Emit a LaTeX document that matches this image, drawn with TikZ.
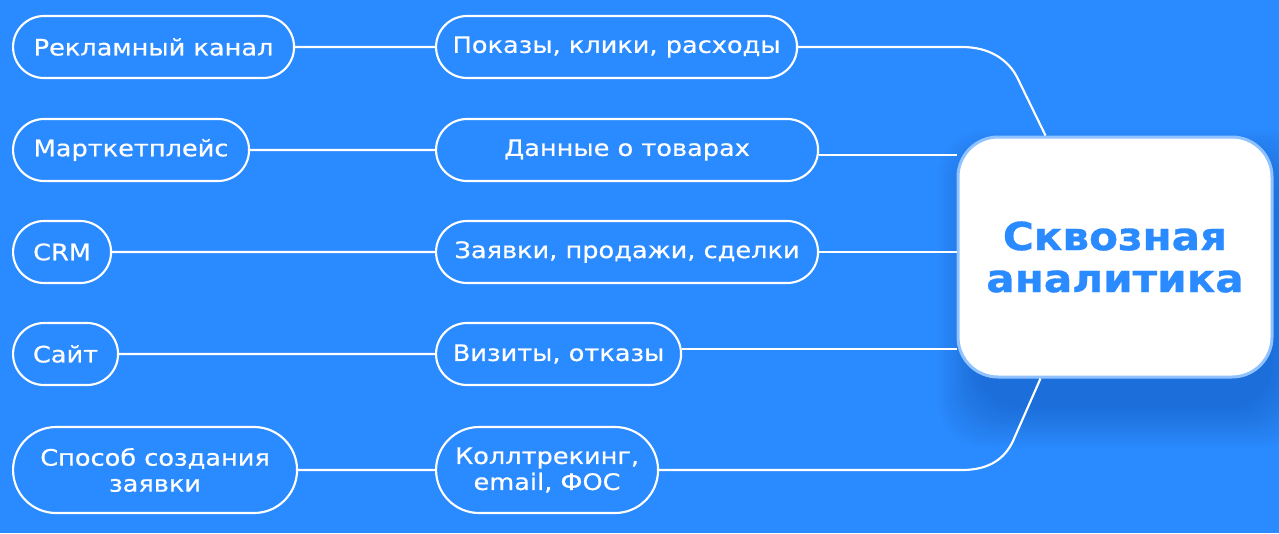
\documentclass[tikz,border=0pt]{standalone}
\usepackage{fontspec}
\setmainfont[FakeStretch=1.13,FakeBold=0.6]{DejaVu Sans}
\newfontfamily\hubfont[FakeStretch=1.09,FakeBold=0.8]{DejaVu Sans}
\usetikzlibrary{shapes.misc}
\definecolor{bgblue}{HTML}{2A8AFF}
\definecolor{hubedge}{HTML}{8FC2FF}
\definecolor{shadeblue}{HTML}{1650A8}
\tikzset{
	% pill shaped boxes for sources and their data
	pill/.style={rounded rectangle, draw=white, line width=1.6pt, text=white,
		minimum height=46.5pt, inner sep=0pt, align=center, anchor=west,
		font=\fontsize{17}{19.5}\selectfont},
	% white connector line
	link/.style={draw=white, line width=1.6pt},
	hub/.style={rectangle, rounded corners=30pt, fill=white, draw=hubedge,
		line width=2.25pt, minimum width=235.5pt, minimum height=180pt,
		align=center, text=bgblue, font=\hubfont\fontsize{29}{31.5}\selectfont\bfseries},
}
\begin{document}
\begin{tikzpicture}[x=0.75pt,y=-0.75pt]
	\useasboundingbox (0,0) rectangle (1279,533);
	\fill[bgblue] (0,0) rectangle (1279,533);
	% soft shadow under the hub
	\foreach \i in {1,...,14}
		\fill[shadeblue, opacity=0.03, rounded corners=34pt]
		(980-3*\i,172-3*\i) rectangle (1270+3*\i,405+3*\i);
	% sources
	\node[pill, minimum width=210.75pt] (src1) at (12,47) {Рекламный канал};
	\node[pill, minimum width=177pt] (src2) at (12,150) {Марткетплейс};
	\node[pill, minimum width=73.5pt] (src3) at (12,252) {CRM};
	\node[pill, minimum width=78.75pt] (src4) at (12,354) {Сайт};
	\node[pill, minimum width=213pt, minimum height=64.5pt] (src5) at (12,470) {Способ создания\\заявки};
	% data
	\node[pill, minimum width=270.75pt] (data1) at (435,47) {Показы, клики, расходы};
	\node[pill, minimum width=286.5pt] (data2) at (435,150) {Данные о товарах};
	\node[pill, minimum width=286.5pt] (data3) at (435,252) {Заявки, продажи, сделки};
	\node[pill, minimum width=183.75pt] (data4) at (435,354) {Визиты, отказы};
	\node[pill, minimum width=166.5pt, minimum height=64.5pt] (data5) at (435,470) {Коллтрекинг,\\email, ФОС};
	\node[hub] (hub) at (1115,257) {Сквозная\\аналитика};
	\foreach \i in {1,...,5}
		\draw[link] (src\i) -- (data\i);
	\coordinate (d2) at ([yshift=-3.75pt]data2.east);
	\coordinate (d4) at ([yshift=3.75pt]data4.east);
	\draw[link] (data1.east) -- (962,47) .. controls (990,47) and (1008,60) .. (1017,77)
		-- ([xshift=66.75pt]hub.north west);
	\draw[link] (d2) -- (d2 -| hub.west);
	\draw[link] (data3.east) -- (data3.east -| hub.west);
	\draw[link] (d4) -- (d4 -| hub.west);
	\draw[link] (data5.east) -- (962,470) .. controls (990,470) and (1005,458) .. (1013,441)
		-- ([xshift=63pt]hub.south west);
\end{tikzpicture}
\end{document}
